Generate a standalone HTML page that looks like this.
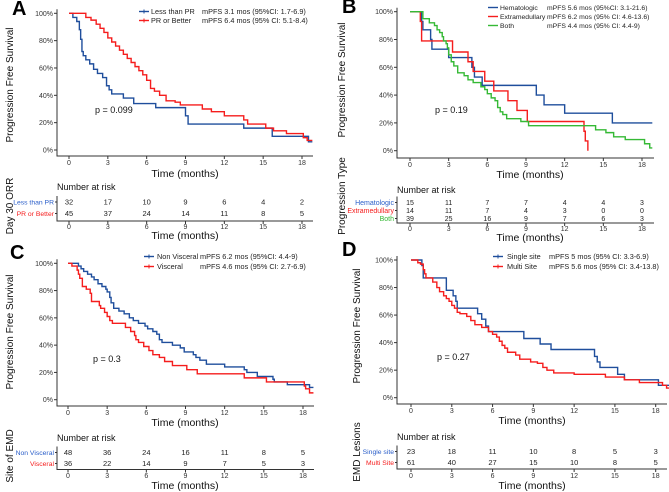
<!DOCTYPE html>
<html><head><meta charset="utf-8"><style>
html,body{margin:0;padding:0;background:#fff;}
svg{display:block;font-family:"Liberation Sans",Arial,sans-serif;}
</style></head><body>
<svg id="fig" width="669" height="492" viewBox="0 0 669 492"></svg>
<script>
const BLUE="#1f4e9c",RED="#f51d1d",GREEN="#35b935";
const xTicks=[0,3,6,9,12,15,18];
const yTicks=[0,20,40,60,80,100];
// Panel A
const aBlueT=[0,0.3,0.6,0.8,0.9,1.0,1.1,1.3,1.6,1.9,2.2,2.6,2.9,3.1,3.3,4.2,5.0,6.7,9.0,9.2,13.5,15.7,18.5];
const aBlueS=[100,97,94,88,81,72,69,66,63,59,56,53,47,44,41,38,34,31,25,19,16,10,6];
const aRedT=[0,1.3,1.7,2.1,2.4,2.7,3.0,3.3,3.6,3.9,4.2,4.5,4.8,5.1,5.4,5.7,6.0,6.3,6.6,7.0,7.5,8.2,8.6,10.3,11.0,12.0,13.5,13.8,15.2,15.8,16.8,18.1,18.4];
const aRedS=[100,97,95,92,89,86,82,79,76,73,70,67,64,61,58,55,51,45,43,40,36,35,33,30,28,25,22,19,16,14,12,9,7];
const aRiskBlue=[32,17,10,9,6,4,2];
const aRiskRed=[45,37,24,14,11,8,5];
// Panel B
const bBlueT=[0,0.9,1.0,1.6,1.7,3.0,4.8,5.0,5.6,9.8,10.4,12.0,15.7];
const bBlueS=[100,93,87,80,73,67,60,53,47,40,33,27,20];
const bRedT=[0,0.8,0.9,3.3,4.5,4.9,5.8,6.5,7.6,8.3,9.1,13.5,13.6,13.8];
const bRedS=[100,93,79,71,64,57,50,43,36,29,21,14,7,0];
const bGreenT=[0,1.0,1.5,1.9,2.1,2.3,2.5,2.6,2.8,2.9,3.0,3.2,3.4,3.7,4.2,4.5,4.9,5.5,5.8,6.0,6.3,6.6,6.8,7.0,7.2,7.5,8.6,9.2,13.8,14.4,15.2,15.8,16.7,18.2,18.6];
const bGreenS=[100,95,92,90,87,85,82,79,77,74,69,64,61,56,54,51,49,46,44,41,38,36,31,28,26,23,21,18,18,15,13,10,8,5,2];
const bRiskBlue=[15,11,7,7,4,4,3];
const bRiskRed=[14,11,7,4,3,0,0];
const bRiskGreen=[39,25,16,9,7,6,3];
// Panel C
const cBlueT=[0,0.8,1.0,1.2,1.5,1.8,2.0,2.3,2.6,2.9,3.0,3.2,3.3,3.5,3.9,4.3,4.7,5.0,5.4,5.9,6.1,6.5,6.8,7.0,7.2,8.0,8.6,8.9,9.6,9.8,10.1,10.6,12.0,13.5,13.7,14.5,15.7,15.8,16.8,18.5];
const cBlueS=[100,98,96,94,92,90,88,85,83,81,79,75,71,67,65,63,60,58,56,54,52,50,48,44,42,40,38,35,33,31,29,26,24,22,20,17,15,13,11,9];
const cRedT=[0,0.3,0.7,0.8,0.9,1.1,1.4,1.7,1.8,2.4,2.5,2.8,3.0,3.2,3.4,4.4,4.8,5.1,5.2,5.4,5.8,6.2,6.5,7.0,7.4,8.0,9.1,9.9,13.5,15.2,18.1,18.2,18.5];
const cRedS=[100,98,95,92,89,83,81,78,72,69,67,64,61,58,56,53,50,47,44,42,39,36,33,31,28,25,22,19,16,13,10,8,5];
const cRiskBlue=[48,36,24,16,11,8,5];
const cRiskRed=[36,22,14,9,7,5,3];
// Panel D
const dBlueT=[0,0.8,0.9,2.6,3.1,3.3,3.4,4.9,5.2,5.5,5.7,8.3,9.5,10.3,13.5,13.7,13.9,15.2,15.7,18.2];
const dBlueS=[100,96,87,78,74,70,65,61,57,52,48,43,39,35,30,26,22,17,13,9];
const dRedT=[0,0.5,0.7,0.9,1.0,1.1,1.6,1.9,2.1,2.4,2.6,2.8,3.0,3.2,3.4,3.6,4.1,4.4,4.7,5.2,5.7,6.0,6.3,6.5,6.7,6.9,7.1,7.7,8.0,8.8,9.3,9.7,10.0,10.5,12.0,14.3,15.7,16.8,18.5,18.8];
const dRedS=[100,98,97,93,90,87,84,80,77,74,72,70,67,65,62,61,59,56,53,51,48,46,44,41,38,36,33,31,28,26,25,22,20,18,17,15,13,11,9,7];
const dRiskBlue=[23,18,11,10,8,5,3];
const dRiskRed=[61,40,27,15,10,8,5];

const NS="http://www.w3.org/2000/svg";
const svg=document.getElementById('fig');
function mk(tag,attrs,parent){const e=document.createElementNS(NS,tag);for(const k in attrs)e.setAttribute(k,attrs[k]);(parent||svg).appendChild(e);return e;}
function txt(x,y,s,attrs,parent){const e=mk('text',Object.assign({x:x,y:y},attrs||{}),parent);e.textContent=s;return e;}

const panels=[
 {id:'a',letter:'A',lx:12,ly:15,axL:57,x0:69,x18:302,xEnd:313,y100:13.3,y0:150,axB:156,tickY:165,titleY:177,titleX:185,
  ytitle:'Progression Free Survival',ytx:9,yty:85,rtitle:'Day 30 ORR',rty:206,nY:190,rows:[202,213.5],tLine:221,rtickY:229,rtitleY:239,
  pv:'p = 0.099',px:95,py:113,
  legend:{lx:139,l2:151,mx:202,ys:[14,23]},
  series:[{n:'less-than-pr',lab:'Less than PR',m:'mPFS 3.1 mos (95%CI: 1.7-6.9)',c:BLUE,t:aBlueT,s:aBlueS,end:18.8,risk:aRiskBlue,rc:'#2a5ec9'},
          {n:'pr-or-better',lab:'PR or Better',m:'mPFS 6.4 mos (95% CI: 5.1-8.4)',c:RED,t:aRedT,s:aRedS,end:18.8,risk:aRiskRed,rc:RED}]},
 {id:'b',letter:'B',lx:342,ly:13,axL:397,x0:410,x18:642,xEnd:654,y100:11.7,y0:150.7,axB:158,tickY:167,titleY:178,titleX:530,
  ytitle:'Progression Free Survival',ytx:341,yty:80,rtitle:'Progression Type',rty:196,nY:193,rows:[202.5,210.5,218.5],tLine:223,rtickY:231,rtitleY:241,
  pv:'p = 0.19',px:435,py:113,
  legend:{lx:488,l2:500,mx:547,ys:[10,19,28]},
  series:[{n:'hematologic',lab:'Hematologic',m:'mPFS 5.6 mos (95%CI: 3.1-21.6)',c:BLUE,t:bBlueT,s:bBlueS,end:18.8,risk:bRiskBlue,rc:'#2a5ec9'},
          {n:'extramedullary',lab:'Extramedullary',m:'mPFS 6.2 mos (95% CI: 4.6-13.6)',c:RED,t:bRedT,s:bRedS,end:13.8,risk:bRiskRed,rc:RED},
          {n:'both',lab:'Both',m:'mPFS 4.4 mos (95% CI: 4.4-9)',c:GREEN,t:bGreenT,s:bGreenS,end:18.8,risk:bRiskGreen,rc:GREEN}],small:true},
 {id:'c',letter:'C',lx:10,ly:259,axL:57,x0:68,x18:303,xEnd:314,y100:263.3,y0:399.7,axB:406,tickY:415,titleY:426,titleX:185,
  ytitle:'Progression Free Survival',ytx:9,yty:332,rtitle:'Site of EMD',rty:456,nY:441,rows:[452.5,463.5],tLine:469.5,rtickY:478,rtitleY:489,
  pv:'p = 0.3',px:93,py:362,
  legend:{lx:144,l2:157,mx:200,ys:[259,269]},
  series:[{n:'non-visceral',lab:'Non Visceral',m:'mPFS 6.2 mos (95%CI: 4.4-9)',c:BLUE,t:cBlueT,s:cBlueS,end:18.8,risk:cRiskBlue,rc:'#2a5ec9'},
          {n:'visceral',lab:'Visceral',m:'mPFS 4.6 mos (95% CI: 2.7-6.9)',c:RED,t:cRedT,s:cRedS,end:18.8,risk:cRiskRed,rc:RED}]},
 {id:'d',letter:'D',lx:342,ly:256,axL:397,x0:411,x18:655.7,xEnd:667,y100:260,y0:397.7,axB:404,tickY:413,titleY:424,titleX:532,
  ytitle:'Progression Free Survival',ytx:356,yty:326,rtitle:'EMD Lesions',rty:452,nY:440,rows:[451.5,462.5],tLine:469,rtickY:478,rtitleY:489,
  pv:'p = 0.27',px:437,py:360,
  legend:{lx:493,l2:507,mx:549,ys:[259,269]},
  series:[{n:'single-site',lab:'Single site',m:'mPFS 5 mos (95% CI: 3.3-6.9)',c:BLUE,t:dBlueT,s:dBlueS,end:19,risk:dRiskBlue,rc:'#2a5ec9'},
          {n:'multi-site',lab:'Multi Site',m:'mPFS 5.6 mos (95% CI: 3.4-13.8)',c:RED,t:dRedT,s:dRedS,end:19,risk:dRiskRed,rc:RED}]}
];

panels.forEach(P=>{
  const g=mk('g',{});
  
  
  const xs=t=>P.x0+(P.x18-P.x0)*t/18;
  const ys=v=>P.y0+(P.y100-P.y0)*v/100;
  const L=txt(P.lx,P.ly,P.letter,{'font-size':20,'font-weight':'bold',fill:'#000'},g);
  
  
  const ax=mk('path',{d:`M${P.axL},${P.y100-4}V${P.axB}H${P.xEnd}`,stroke:'#333',fill:'none','stroke-width':1},g);
  
  
  yTicks.forEach(v=>{
    mk('line',{x1:P.axL-3,x2:P.axL,y1:ys(v),y2:ys(v),stroke:'#333'},g);
    const t=txt(P.axL-4,ys(v)+2.5,v+'%',{'font-size':7,'text-anchor':'end',fill:'#333'},g);
    
    
  });
  xTicks.forEach(v=>{
    mk('line',{x1:xs(v),x2:xs(v),y1:P.axB,y2:P.axB+3,stroke:'#333'},g);
    const t=txt(xs(v),P.tickY,String(v),{'font-size':7,'text-anchor':'middle',fill:'#333'},g);
    
    
    mk('line',{x1:xs(v),x2:xs(v),y1:P.tLine,y2:P.tLine+3,stroke:'#333'},g);
    const t2=txt(xs(v),P.rtickY,String(v),{'font-size':7,'text-anchor':'middle',fill:'#333'},g);
    
    
  });
  const xt=txt(P.titleX,P.titleY,'Time (months)',{'font-size':10.5,'text-anchor':'middle',fill:'#111'},g);
  
  
  const yt=txt(0,0,P.ytitle,{'font-size':10,'text-anchor':'middle',fill:'#111',transform:`translate(${P.ytx+4},${P.yty}) rotate(-90)`},g);
  
  
  P.series.forEach(S=>{
    let d=`M${xs(S.t[0])},${ys(S.s[0])}`;
    for(let i=1;i<S.t.length;i++){d+=`H${xs(S.t[i])}V${ys(S.s[i])}`;}
    d+=`H${xs(S.end)}`;
    const p=mk('path',{d:d,stroke:S.c,fill:'none','stroke-width':1.4},g);
    
    
  });
  const pv=txt(P.px,P.py,P.pv,{'font-size':9,fill:'#111'},g);
  
  
  const fs=P.small?6.8:7.3;
  P.series.forEach((S,i)=>{
    const y=P.legend.ys[i];
    const le=mk('g',{},g);
    
    
    mk('line',{x1:P.legend.lx,x2:P.legend.lx+10,y1:y-2.5,y2:y-2.5,stroke:S.c,'stroke-width':1.4},le);
    if(!P.small)mk('line',{x1:P.legend.lx+5,x2:P.legend.lx+5,y1:y-4.5,y2:y-0.5,stroke:S.c,'stroke-width':1},le);
    txt(P.legend.l2,y,S.lab,{'font-size':fs,fill:'#222'},le);
    txt(P.legend.mx,y,S.m,{'font-size':fs,fill:'#222'},le);
  });
  const nr=txt(P.axL,P.nY,'Number at risk',{'font-size':9,fill:'#111'},g);
  
  
  mk('path',{d:`M${P.axL},${P.rows[0]-6}V${P.tLine}H${P.xEnd}`,stroke:'#333',fill:'none'},g);
  const rfs=P.small?7:7.5;
  P.series.forEach((S,i)=>{
    const y=P.rows[i];
    const rl=txt(P.axL-3,y+2.5,S.lab,{'font-size':P.small?7:6.8,'text-anchor':'end',fill:S.rc},g);
    
    
    mk('line',{x1:P.axL-2,x2:P.axL,y1:y,y2:y,stroke:'#333'},g);
    S.risk.forEach((v,j)=>{
      const t=txt(xs(xTicks[j]),y+2.5,String(v),{'font-size':rfs,'text-anchor':'middle',fill:'#222'},g);
      
      
    });
  });
  const rt=txt(P.titleX,P.rtitleY,'Time (months)',{'font-size':10.5,'text-anchor':'middle',fill:'#111'},g);
  
  
  const rty=txt(0,0,P.rtitle,{'font-size':10,'text-anchor':'middle',fill:'#111',transform:`translate(${P.ytx+4},${P.rty}) rotate(-90)`},g);
  
  
});
</script>
</body></html>
